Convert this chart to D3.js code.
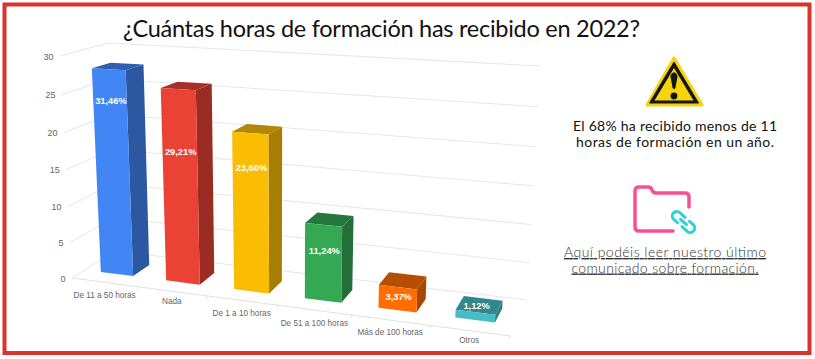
<!DOCTYPE html>
<html><head><meta charset="utf-8">
<script src="https://cdn.jsdelivr.net/npm/d3@7/dist/d3.min.js"></script>
<style>html,body{margin:0;padding:0;background:#fff}svg{display:block}</style>
</head><body><svg id="c" width="815" height="359"></svg>
<script>
// ---- data ----
const categories = ["De 11 a 50 horas","Nada","De 1 a 10 horas","De 51 a 100 horas","Más de 100 horas","Otros"];
const counts = [28,26,21,10,3,1];
const percentLabels = ["31,46%","29,21%","23,60%","11,24%","3,37%","1,12%"];
const barColors = ["#4285f4","#ea4335","#fbbc04","#34a853","#ff6d01","#46bdc6"];
const titleText = "¿Cuántas horas de formación has recibido en 2022?";
const noteLines = ["El 68% ha recibido menos de 11","horas de formación en un año."];
const linkLines = ["Aquí podéis leer nuestro último","comunicado sobre formación."];
// value on the y axis at which each percentage label sits
const labelLevels = [23.95,17.8,16.6,6.65,1.75,1.8];
const catLabelDy = [13,9.5,12.5,13,12,9];

// ---- 3D projection: corners of the chart box on screen ----
const box = {
  fl0:[72,278], fr0:[510,336], bl0:[115,251], br0:[527,300],
  fl1:[60,56],  fr1:[521,82],  bl1:[108,43],  br1:[540,66]
};
const lerp=(a,b,t)=>[a[0]+(b[0]-a[0])*t,a[1]+(b[1]-a[1])*t];
const warp=(t,k)=>t/(t+k*(1-t));
const y=d3.scaleLinear().domain([0,30]).range([0,1]);
const x=d3.scaleBand().domain(categories).range([0,1]).paddingInner(.5).paddingOuter(.25);
const step=x.step();
function P(u,v,w){
  const t=warp(u,1.13), h=warp(y(v),1.05);
  const bot=lerp(lerp(box.fl0,box.bl0,w),lerp(box.fr0,box.br0,w),t);
  const top=lerp(lerp(box.fl1,box.bl1,w),lerp(box.fr1,box.br1,w),t);
  return lerp(bot,top,h);
}
const W0=.3,W1=.7;
const svg=d3.select("#c");
const poly=pts=>pts.map(p=>p.map(n=>n.toFixed(2)).join(",")).join(" ");
const grid="#e6e6e6";

// frame
svg.append("rect").attr("x",4.5).attr("y",4.5).attr("width",805).attr("height",348.5)
  .attr("fill","#fff").attr("stroke","#d9342b").attr("stroke-width",4);

// title
svg.append("text").attr("x",381.5).attr("y",37).attr("text-anchor","middle")
  .attr("font-family","Lato").attr("font-size",23.5).attr("fill","#111")
  .attr("textLength",517).attr("lengthAdjust","spacing").text(titleText);

// grid
const g=svg.append("g");
y.ticks(6).forEach(v=>{
  const a=P(0,v,0),b=P(0,v,1),c=P(1,v,1);
  g.append("polyline").attr("points",poly([a,b,c])).attr("fill","none").attr("stroke",grid).attr("stroke-width",1);
  g.append("text").attr("x",a[0]-6.5).attr("y",a[1]+3.5).attr("text-anchor","end")
    .attr("font-family","Liberation Sans").attr("font-size",9).attr("fill","#666").text(v);
});
// floor front edge and ticks
const e0=P(0,0,0),e1=P(1,0,0);
g.append("line").attr("x1",e0[0]).attr("y1",e0[1]).attr("x2",e1[0]).attr("y2",e1[1]).attr("stroke","#e0e0e0");
categories.forEach((c,i)=>{
  const tk=P((i+1)*step,0,0);
  g.append("line").attr("x1",tk[0]).attr("y1",tk[1]).attr("x2",tk[0]).attr("y2",tk[1]+3).attr("stroke","#e0e0e0");
  const m=P((i+.5)*step,0,0);
  g.append("text").attr("x",m[0]).attr("y",m[1]+catLabelDy[i]+3).attr("text-anchor","middle")
    .attr("font-family","Liberation Sans").attr("font-size",8.2).attr("fill","#666").text(c);
});

// bars
categories.forEach((c,i)=>{
  const u0=x(c),u1=u0+x.bandwidth(),v=counts[i],col=d3.color(barColors[i]);
  const b=svg.append("g");
  b.append("polygon").attr("points",poly([P(u1,0,W0),P(u1,0,W1),P(u1,v,W1),P(u1,v,W0)])).attr("fill",col.darker(1.15));
  b.append("polygon").attr("points",poly([P(u0,v,W0),P(u1,v,W0),P(u1,v,W1),P(u0,v,W1)])).attr("fill",col.darker(.95));
  b.append("polygon").attr("points",poly([P(u0,0,W0),P(u1,0,W0),P(u1,v,W0),P(u0,v,W0)])).attr("fill",col);
  const m=P((u0+u1)/2,labelLevels[i],W0);
  b.append("text").attr("x",m[0]+1).attr("y",m[1]+3.5).attr("text-anchor","middle")
    .attr("font-family","Liberation Sans").attr("font-weight","bold").attr("font-size",9.3).attr("fill","#fff").text(percentLabels[i]);
});

// warning icon
const w=svg.append("g");
w.append("path").attr("d","M674,58 L702,105 L647,105 Z").attr("fill","#f7d308").attr("stroke","#f7d308").attr("stroke-width",3).attr("stroke-linejoin","round");
w.append("path").attr("d","M674,62 L698.5,103 L649.5,103 Z").attr("fill","#141414").attr("stroke","#141414").attr("stroke-width",1).attr("stroke-linejoin","round");
w.append("path").attr("d","M674,68 L693.5,100.5 L654.5,100.5 Z").attr("fill","#f7d308");
w.append("path").attr("d","M670.4,76 Q674,68.5 677.6,76 L675.4,88 Q674,90 672.6,88 Z").attr("fill","#141414");
w.append("circle").attr("cx",674).attr("cy",96).attr("r",3.4).attr("fill","#141414");

noteLines.forEach((t,i)=>{
  svg.append("text").attr("x",675).attr("y",131+i*15.5).attr("text-anchor","middle")
    .attr("font-family","Lato").attr("font-size",14).attr("fill","#111")
    .attr("textLength",i?198:204).attr("lengthAdjust","spacing").text(t);
});

// folder + link icon
const f=svg.append("g").attr("fill","none").attr("stroke-linecap","round").attr("stroke-linejoin","round");
f.append("path").attr("d","M673,231 H639 Q635,231 635,227 V191 Q635,187 639,187 H648 Q651,187 652,190 Q653,193 656,193 H685 Q689,193 689,197 V207")
  .attr("stroke","#f4528f").attr("stroke-width",3.5);
const chain=f.append("g").attr("transform","translate(683.5,222) rotate(42)").attr("stroke","#2bd2d8").attr("stroke-width",3);
chain.append("path").attr("d","M-2,-4.5 H-9 A4.5,4.5 0 0 0 -9,4.5 H-4");
chain.append("path").attr("d","M2,4.5 H9 A4.5,4.5 0 0 0 9,-4.5 H4");
chain.append("path").attr("d","M-4,0 H4");

linkLines.forEach((t,i)=>{
  svg.append("text").attr("x",665).attr("y",257+i*15.5).attr("text-anchor","middle")
    .attr("font-family","Lato").attr("font-weight",300).attr("font-size",14).attr("fill","#333")
    .attr("text-decoration","underline")
    .attr("textLength",i?187:202).attr("lengthAdjust","spacing").text(t);
});
</script></body></html>
